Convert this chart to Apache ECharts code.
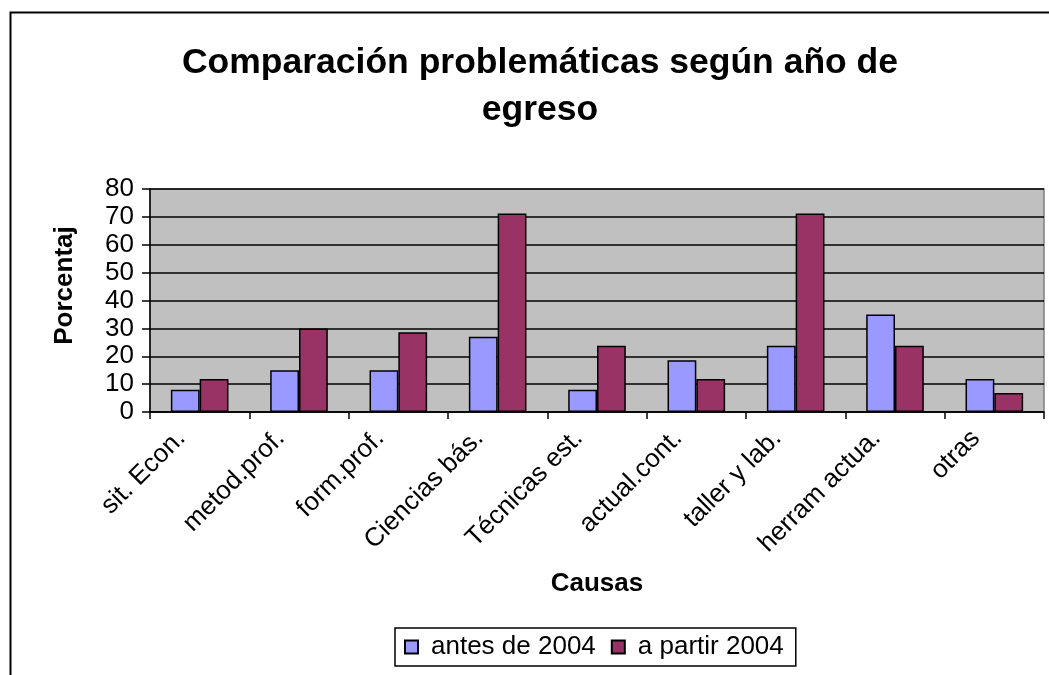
<!DOCTYPE html>
<html>
<head>
<meta charset="utf-8">
<script src="https://cdn.jsdelivr.net/npm/echarts@6/dist/echarts.min.js"></script>
<style>html,body{margin:0;padding:0;background:#fff}#c{width:1049px;height:675px}</style>
</head>
<body>
<div id="c"></div>
<script>
const titleText = 'Comparación problemáticas según año de\negreso';
const categories = ['sit. Econ.', 'metod.prof.', 'form.prof.', 'Ciencias bás.', 'Técnicas est.', 'actual.cont.', 'taller y lab.', 'herram actua.', 'otras'];
const seriesNames = ['antes de 2004', 'a partir 2004'];
const antes2004 = [8, 15, 15, 27, 8, 18.6, 23.8, 35, 11.8];
const aPartir2004 = [11.8, 30, 28.6, 71.2, 23.8, 11.8, 71.2, 23.8, 6.8];
const yTicks = [0, 10, 20, 30, 40, 50, 60, 70, 80];

const font = 'Arial, "Liberation Sans", sans-serif';
const chart = echarts.init(document.getElementById('c'), null, {renderer: 'canvas'});
chart.setOption({
  animation: false,
  backgroundColor: '#fff',
  textStyle: {fontFamily: font, color: '#000'},
  graphic: [{
    type: 'rect', left: 8, top: 10, z: -1,
    shape: {width: 1200, height: 900},
    style: {fill: 'none', stroke: '#000', lineWidth: 2}
  }],
  title: {
    text: titleText,
    left: 535, top: 35, textAlign: 'center',
    textStyle: {fontFamily: font, fontSize: 35.5, fontWeight: 'bold', color: '#000', lineHeight: 47}
  },
  legend: {
    left: 395, top: 628,
    data: seriesNames,
    orient: 'horizontal',
    itemWidth: 13, itemHeight: 13, itemGap: 15,
    borderColor: '#000', borderWidth: 1.5, borderRadius: 0,
    padding: [6, 12, 6, 9],
    icon: 'rect',
    textStyle: {fontFamily: font, fontSize: 26, color: '#000', padding: [0, 0, 0, 8]}
  },
  grid: {
    left: 150, top: 189, right: 5, bottom: 263,
    show: true, backgroundColor: '#C0C0C0', borderColor: '#808080', borderWidth: 1.5
  },
  xAxis: {
    type: 'category',
    data: categories,
    name: 'Causas',
    nameLocation: 'middle',
    nameGap: 159,
    nameTextStyle: {fontFamily: font, fontSize: 26, fontWeight: 'bold', color: '#000'},
    axisLine: {lineStyle: {color: '#000', width: 1.5}},
    axisTick: {show: true, length: 7, lineStyle: {color: '#000', width: 1.5}},
    axisLabel: {rotate: 45, interval: 0, fontFamily: font, fontSize: 26, color: '#000', margin: 4, padding: [0, 26, 21, 0]}
  },
  yAxis: {
    type: 'value',
    min: yTicks[0], max: yTicks[yTicks.length - 1], interval: 10,
    name: 'Porcentaje',
    nameLocation: 'middle',
    nameGap: 72,
    nameRotate: 90,
    nameTruncate: {maxWidth: 127, ellipsis: ''},
    nameTextStyle: {fontFamily: font, fontSize: 26, fontWeight: 'bold', color: '#000', width: 127, overflow: 'truncate', ellipsis: '', padding: [0, 0, 0, 30]},
    axisLine: {show: true, lineStyle: {color: '#000', width: 1.5}},
    axisTick: {show: true, length: 8, lineStyle: {color: '#000', width: 1.5}},
    axisLabel: {fontFamily: font, fontSize: 26, color: '#000', margin: 16},
    splitLine: {show: true, lineStyle: {color: '#000', width: 1.5}}
  },
  series: [
    {
      name: seriesNames[0], type: 'bar', data: antes2004,
      barCategoryGap: '42%', barGap: '0%',
      itemStyle: {color: '#9999FF', borderColor: '#000', borderWidth: 1.5}
    },
    {
      name: seriesNames[1], type: 'bar', data: aPartir2004,
      barCategoryGap: '42%', barGap: '0%',
      itemStyle: {color: '#993366', borderColor: '#000', borderWidth: 1.5}
    }
  ]
});
</script>
</body>
</html>
